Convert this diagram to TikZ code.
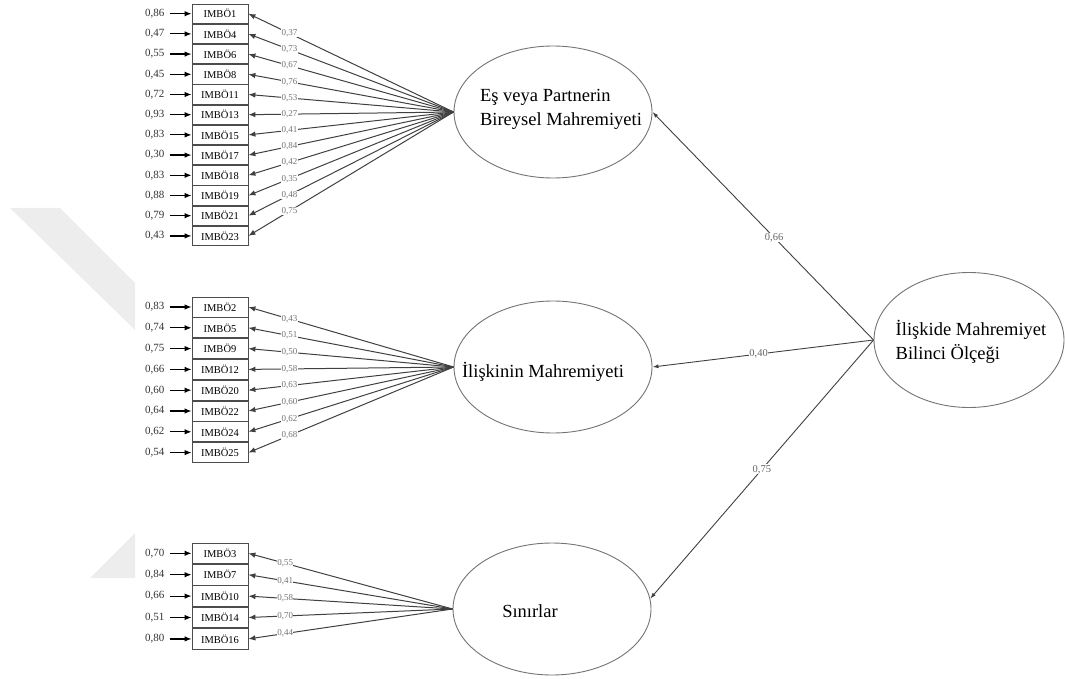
\documentclass[tikz,border=0pt]{standalone}
\usepackage{fontspec}
\setmainfont{Liberation Serif}
\usetikzlibrary{arrows.meta,positioning,shapes.geometric}

\begin{document}
\begin{tikzpicture}[x=1pt, y=-1pt,
      node distance=0pt and 26pt,
      item/.style={draw=black!70, line width=.8pt, minimum width=56pt, minimum height=#1,
                   inner sep=0pt, font=\fontsize{10.5}{12}\selectfont},
      item/.default=19.4pt,
      err/.style={inner sep=1pt, text=black!80, font=\fontsize{11}{13}\selectfont},
      lat/.style={draw=black!55, line width=.9pt, ellipse, minimum width=198pt,
                  minimum height=132pt, inner sep=0pt},
      lattxt/.style={align=left, font=\fontsize{18.5}{24}\selectfont},
      ld/.style={fill=white, inner sep=.4pt, text=black!55, font=\fontsize{9}{10}\selectfont},
      plab/.style={fill=white, inner sep=.6pt, text=black!60, font=\fontsize{10.5}{12}\selectfont},
      earr/.style={-{Latex[length=7pt,width=5.5pt]}, line width=1.2pt, shorten <=4pt},
      larr/.style={-{Latex[length=7pt,width=5.5pt]}, line width=1pt, draw=black!75},
      parr/.style={-{Latex[length=6pt,width=4pt]}, line width=.9pt, draw=black!75}]
    \useasboundingbox (0,0) rectangle (1065,679);
    % faint watermark behind the figure
    \fill[black!7] (10,208) -- (60,208) -- (135,283) -- (135,330) -- cycle;
    \fill[black!7] (135,533) -- (135,578) -- (90,578) -- cycle;

    % first factor
    \node[item] (i1) at (220,13.7) {IMBÖ1};
    \node[item, below=of i1] (i4) {IMBÖ4};
    \node[item, below=of i4] (i6) {IMBÖ6};
    \node[item, below=of i6] (i8) {IMBÖ8};
    \node[item, below=of i8] (i11) {IMBÖ11};
    \node[item, below=of i11] (i13) {IMBÖ13};
    \node[item, below=of i13] (i15) {IMBÖ15};
    \node[item, below=of i15] (i17) {IMBÖ17};
    \node[item, below=of i17] (i18) {IMBÖ18};
    \node[item, below=of i18] (i19) {IMBÖ19};
    \node[item, below=of i19] (i21) {IMBÖ21};
    \node[item, below=of i21] (i23) {IMBÖ23};
    \node[err, left=of i1] (e1) {0,86};
    \node[err, left=of i4] (e4) {0,47};
    \node[err, left=of i6] (e6) {0,55};
    \node[err, left=of i8] (e8) {0,45};
    \node[err, left=of i11] (e11) {0,72};
    \node[err, left=of i13] (e13) {0,93};
    \node[err, left=of i15] (e15) {0,83};
    \node[err, left=of i17] (e17) {0,30};
    \node[err, left=of i18] (e18) {0,83};
    \node[err, left=of i19] (e19) {0,88};
    \node[err, left=of i21] (e21) {0,79};
    \node[err, left=of i23] (e23) {0,43};

    % second factor
    \node[item=20pt] (i2) at (220,307) {IMBÖ2};
    \node[item=20pt, below=of i2] (i5) {IMBÖ5};
    \node[item=20pt, below=of i5] (i9) {IMBÖ9};
    \node[item=20pt, below=of i9] (i12) {IMBÖ12};
    \node[item=20pt, below=of i12] (i20) {IMBÖ20};
    \node[item=20pt, below=of i20] (i22) {IMBÖ22};
    \node[item=20pt, below=of i22] (i24) {IMBÖ24};
    \node[item=20pt, below=of i24] (i25) {IMBÖ25};
    \node[err, left=of i2] (e2) {0,83};
    \node[err, left=of i5] (e5) {0,74};
    \node[err, left=of i9] (e9) {0,75};
    \node[err, left=of i12] (e12) {0,66};
    \node[err, left=of i20] (e20) {0,60};
    \node[err, left=of i22] (e22) {0,64};
    \node[err, left=of i24] (e24) {0,62};
    \node[err, left=of i25] (e25) {0,54};

    % third factor
    \node[item=20.6pt] (i3) at (220,553.3) {IMBÖ3};
    \node[item=20.6pt, below=of i3] (i7) {IMBÖ7};
    \node[item=20.6pt, below=of i7] (i10) {IMBÖ10};
    \node[item=20.6pt, below=of i10] (i14) {IMBÖ14};
    \node[item=20.6pt, below=of i14] (i16) {IMBÖ16};
    \node[err, left=of i3] (e3) {0,70};
    \node[err, left=of i7] (e7) {0,84};
    \node[err, left=of i10] (e10) {0,66};
    \node[err, left=of i14] (e14) {0,51};
    \node[err, left=of i16] (e16) {0,80};

    % latent variables
    \node[lat, label={[lattxt, xshift=8pt, yshift=3pt]center:Eş veya Partnerin\\Bireysel Mahremiyeti}] (lat1) at (553,112) {};
    \node[lat, label={[lattxt, xshift=-10pt, yshift=-5pt]center:İlişkinin Mahremiyeti}] (lat2) at (553,367) {};
    \node[lat, label={[lattxt, xshift=-22pt, yshift=-2pt]center:Sınırlar}] (lat3) at (552,609) {};
    \node[lat, minimum width=190pt, minimum height=135pt,
          label={[lattxt, xshift=2pt, yshift=-2pt]center:İlişkide Mahremiyet\\Bilinci Ölçeği}] (rgt) at (969,340) {};

    % error arrows
    \draw[earr] (e1) -- (i1);   \draw[earr] (e4) -- (i4);   \draw[earr] (e6) -- (i6);
    \draw[earr] (e8) -- (i8);   \draw[earr] (e11) -- (i11); \draw[earr] (e13) -- (i13);
    \draw[earr] (e15) -- (i15); \draw[earr] (e17) -- (i17); \draw[earr] (e18) -- (i18);
    \draw[earr] (e19) -- (i19); \draw[earr] (e21) -- (i21); \draw[earr] (e23) -- (i23);
    \draw[earr] (e2) -- (i2);   \draw[earr] (e5) -- (i5);   \draw[earr] (e9) -- (i9);
    \draw[earr] (e12) -- (i12); \draw[earr] (e20) -- (i20); \draw[earr] (e22) -- (i22);
    \draw[earr] (e24) -- (i24); \draw[earr] (e25) -- (i25);
    \draw[earr] (e3) -- (i3);   \draw[earr] (e7) -- (i7);   \draw[earr] (e10) -- (i10);
    \draw[earr] (e14) -- (i14); \draw[earr] (e16) -- (i16);

    % loadings
    \draw[larr] (lat1.west) -- node[ld, pos=.8]{0,37} (i1.east);
    \draw[larr] (lat1.west) -- node[ld, pos=.8]{0,73} (i4.east);
    \draw[larr] (lat1.west) -- node[ld, pos=.8]{0,67} (i6.east);
    \draw[larr] (lat1.west) -- node[ld, pos=.8]{0,76} (i8.east);
    \draw[larr] (lat1.west) -- node[ld, pos=.8]{0,53} (i11.east);
    \draw[larr] (lat1.west) -- node[ld, pos=.8]{0,27} (i13.east);
    \draw[larr] (lat1.west) -- node[ld, pos=.8]{0,41} (i15.east);
    \draw[larr] (lat1.west) -- node[ld, pos=.8]{0,84} (i17.east);
    \draw[larr] (lat1.west) -- node[ld, pos=.8]{0,42} (i18.east);
    \draw[larr] (lat1.west) -- node[ld, pos=.8]{0,35} (i19.east);
    \draw[larr] (lat1.west) -- node[ld, pos=.8]{0,48} (i21.east);
    \draw[larr] (lat1.west) -- node[ld, pos=.8]{0,75} (i23.east);
    \draw[larr] (lat2.west) -- node[ld, pos=.8]{0,43} (i2.east);
    \draw[larr] (lat2.west) -- node[ld, pos=.8]{0,51} (i5.east);
    \draw[larr] (lat2.west) -- node[ld, pos=.8]{0,50} (i9.east);
    \draw[larr] (lat2.west) -- node[ld, pos=.8]{0,58} (i12.east);
    \draw[larr] (lat2.west) -- node[ld, pos=.8]{0,63} (i20.east);
    \draw[larr] (lat2.west) -- node[ld, pos=.8]{0,60} (i22.east);
    \draw[larr] (lat2.west) -- node[ld, pos=.8]{0,62} (i24.east);
    \draw[larr] (lat2.west) -- node[ld, pos=.8]{0,68} (i25.east);
    \draw[larr] (lat3.west) -- node[ld, pos=.82]{0,55} (i3.east);
    \draw[larr] (lat3.west) -- node[ld, pos=.82]{0,41} (i7.east);
    \draw[larr] (lat3.west) -- node[ld, pos=.82]{0,58} (i10.east);
    \draw[larr] (lat3.west) -- node[ld, pos=.82]{0,70} (i14.east);
    \draw[larr] (lat3.west) -- node[ld, pos=.82]{0,44} (i16.east);

    % second-order paths
    \draw[parr] (rgt.west) -- node[plab, pos=.45]{0,66} (lat1.east);
    \draw[parr] (rgt.west) -- node[plab, pos=.52]{0,40} (lat2.east);
    \draw[parr] (rgt.west) -- node[plab, pos=.5]{0,75} (lat3.6);
  \end{tikzpicture}
\end{document}
